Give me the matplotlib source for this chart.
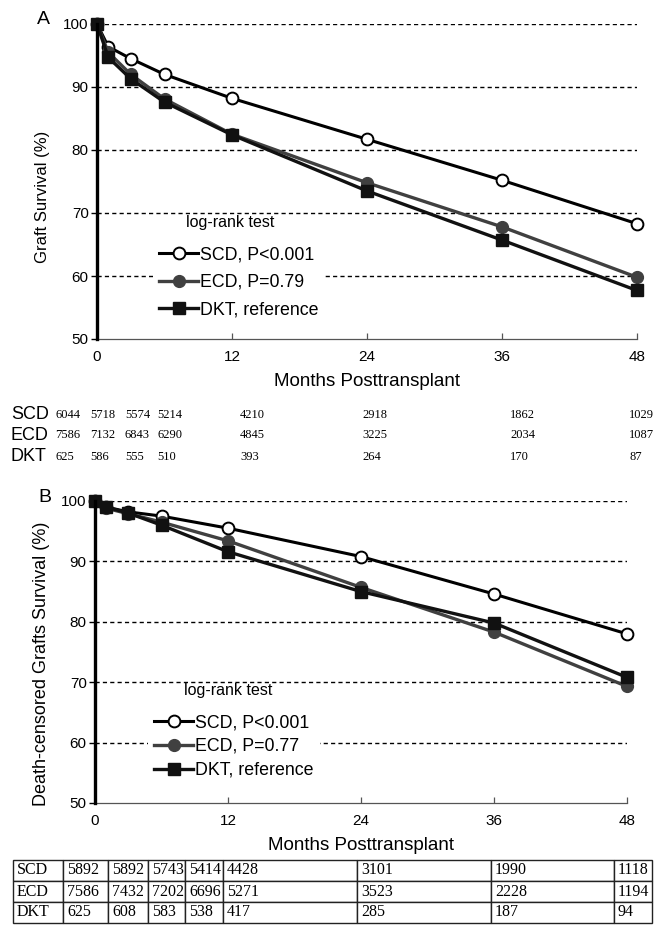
import matplotlib
matplotlib.use("Agg")
import matplotlib.pyplot as plt

plt.rcParams['font.family'] = ['Liberation Sans', 'DejaVu Sans']

# ---------------- data ----------------
months = [0, 1, 3, 6, 12, 24, 36, 48]
xticks = [0, 12, 24, 36, 48]
yticks = [50, 60, 70, 80, 90, 100]
grid_levels = [60, 70, 80, 90, 100]

scd_A = [100, 96.4, 94.5, 92.0, 88.2, 81.7, 75.2, 68.3]
ecd_A = [100, 95.5, 92.0, 88.1, 82.5, 74.8, 67.8, 59.8]
dkt_A = [100, 94.7, 91.3, 87.6, 82.4, 73.5, 65.7, 57.7]

scd_B = [100, 99.0, 98.2, 97.5, 95.5, 90.8, 84.6, 78.0]
ecd_B = [100, 98.8, 97.9, 96.5, 93.4, 85.7, 78.3, 69.3]
dkt_B = [100, 99.0, 98.0, 96.0, 91.6, 85.0, 79.8, 70.8]

labels_A = ['SCD, P<0.001', 'ECD, P=0.79', 'DKT, reference']
labels_B = ['SCD, P<0.001', 'ECD, P=0.77', 'DKT, reference']

groups = ['SCD', 'ECD', 'DKT']
risk_A = [[6044, 5718, 5574, 5214, 4210, 2918, 1862, 1029],
          [7586, 7132, 6843, 6290, 4845, 3225, 2034, 1087],
          [625, 586, 555, 510, 393, 264, 170, 87]]
risk_B = [[5892, 5892, 5743, 5414, 4428, 3101, 1990, 1118],
          [7586, 7432, 7202, 6696, 5271, 3523, 2228, 1194],
          [625, 608, 583, 538, 417, 285, 187, 94]]

W, H = 655, 927
fig = plt.figure(figsize=(W / 100, H / 100), dpi=100)


def fx(px):
    return px / W


def fy(py):
    return 1 - py / H


def make_panel(rect, scd, ecd, dkt, labels, ylabel, ylab_size, ylab_coords,
               xlab_y, leg_anchor, leg_spacing, title_pos, letter, letter_pos):
    ax = fig.add_axes(rect)
    ax.set_xlim(0, 48)
    ax.set_ylim(50, 100)
    ax.set_xticks(xticks)
    ax.set_yticks(yticks)
    for s in ['top', 'right']:
        ax.spines[s].set_visible(False)
    ax.spines['left'].set_linewidth(2.4)
    ax.spines['left'].set_color('black')
    ax.spines['left'].set_zorder(6)
    ax.spines['bottom'].set_linewidth(0.9)
    ax.spines['bottom'].set_color('#555555')
    ax.tick_params(axis='x', direction='in', length=4, width=0.9,
                   color='#555555', labelsize=11, pad=8)
    ax.tick_params(axis='y', direction='out', length=4, width=1,
                   color='black', labelsize=11, pad=2)
    ax.hlines(grid_levels, 0, 48, colors='black', linestyles=(0, (3, 2.3)),
              linewidth=1.0, zorder=1)
    l1, = ax.plot(months, scd, color='black', lw=2.2, marker='o', ms=8.5,
                  mfc='white', mec='black', mew=1.4, clip_on=False, zorder=4)
    l2, = ax.plot(months, ecd, color='#404040', lw=2.4, marker='o', ms=8.5,
                  mfc='#404040', mec='#404040', clip_on=False, zorder=4)
    l3, = ax.plot(months, dkt, color='#111111', lw=2.4, marker='s', ms=8.3,
                  mfc='#111111', mec='#111111', clip_on=False, zorder=5)
    leg = ax.legend([l1, l2, l3], labels, loc='upper left',
                    bbox_to_anchor=leg_anchor, fontsize=12.8, frameon=True,
                    facecolor='white', edgecolor='none', framealpha=1,
                    fancybox=False, handlelength=2.2, handletextpad=0.1,
                    labelspacing=leg_spacing, borderpad=0.35,
                    borderaxespad=0)
    leg.set_zorder(3)
    ax.text(title_pos[0], title_pos[1], 'log-rank test', transform=ax.transAxes,
            ha='center', va='center', fontsize=11.5, zorder=7)
    ax.set_ylabel(ylabel, fontsize=ylab_size)
    ax.yaxis.set_label_coords(*ylab_coords)
    ax.set_xlabel('Months Posttransplant', fontsize=13.5)
    ax.xaxis.set_label_coords(0.5, xlab_y)
    fig.text(letter_pos[0], letter_pos[1], letter, fontsize=14,
             ha='center', va='center')
    return ax


# Panel A: x0=97, x48=637, y100=24, y50=339
axA = make_panel([fx(97), fy(339), fx(540), (339 - 24) / H],
                 scd_A, ecd_A, dkt_A, labels_A, 'Graft Survival (%)', 12,
                 (-0.087, 0.45), -0.108,
                 ((153 - 97) / 540, (339 - 240) / 315), 0.6,
                 ((230 - 97) / 540, (339 - 222) / 315),
                 'A', (fx(43), fy(20)))

# Panel B: x0=95, x48=627, y100=501, y50=803
axB = make_panel([fx(95), fy(803), fx(532), (803 - 501) / H],
                 scd_B, ecd_B, dkt_B, labels_B,
                 'Death-censored Grafts Survival (%)', 13,
                 (-0.085, 0.46), -0.113,
                 ((148 - 95) / 532, (803 - 708) / 302), 0.38,
                 ((228 - 95) / 532, (803 - 690) / 302),
                 'B', (fx(45), fy(498)))


def make_table(edges, top, bottom, data, label_font, num_font, num_size,
               label_size, visible_edges, pad_px):
    left, right = edges[0], edges[-1]
    tax = fig.add_axes([fx(left), fy(bottom), fx(right - left), (bottom - top) / H])
    tax.axis('off')
    widths = [(edges[i + 1] - edges[i]) / (right - left) for i in range(len(edges) - 1)]
    cell_text = [[g] + [str(v) for v in row] for g, row in zip(groups, data)]
    tab = tax.table(cellText=cell_text, colWidths=widths, cellLoc='left',
                    bbox=[0, 0, 1, 1], edges=visible_edges)
    tab.auto_set_font_size(False)
    for (r, c), cell in tab.get_celld().items():
        wpx = edges[c + 1] - edges[c]
        cell.PAD = pad_px / wpx
        cell.set_linewidth(1.0)
        cell.set_edgecolor('#222222')
        t = cell.get_text()
        if c == 0:
            t.set_fontfamily(label_font)
            t.set_fontsize(label_size)
        else:
            t.set_fontfamily(num_font)
            t.set_fontsize(num_size)
    return tab


# Table under panel A (no borders)
make_table([8, 52, 87, 122, 154, 237, 359, 507, 626, 655], 404, 467, risk_A,
           ['Liberation Sans'], ['Liberation Serif'], 9, 13, '', 3)

# Table under panel B (with borders)
make_table([13, 63, 108, 148, 185, 223, 357, 491, 614, 652], 860, 923, risk_B,
           ['Liberation Serif'], ['Liberation Serif'], 11.5, 11.5, 'closed', 4)

fig.savefig('out.png', dpi=100, facecolor='white')
